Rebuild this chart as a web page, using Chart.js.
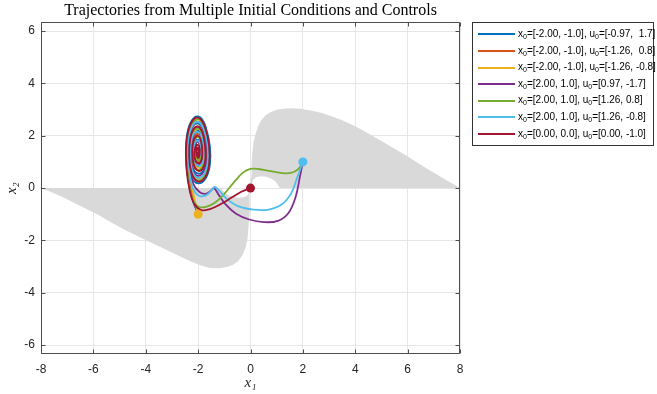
<!DOCTYPE html>
<html>
<head>
<meta charset="utf-8">
<script src="https://cdn.jsdelivr.net/npm/chart.js@4.4.1/dist/chart.umd.min.js"></script>
<style>
body{margin:0;background:#fff;}
#wrap{position:relative;width:657px;height:394px;}
#legend{position:absolute;left:472px;top:22px;width:182px;height:124px;border:1px solid #333;background:#fff;box-sizing:border-box;padding-top:3px;font-family:"Liberation Sans",Arial,sans-serif;font-size:10px;color:#000;}
.row{height:16.6px;line-height:16.6px;white-space:pre;}
.swatch{display:inline-block;width:37px;height:2px;margin:0 3px 0 5px;vertical-align:middle;}
.row sub{font-size:7px;vertical-align:-2px;line-height:0;}
</style>
</head>
<body>
<div id="wrap">
<canvas id="trajChart" width="657" height="394"></canvas>
<div id="legend"></div>
</div>
<script>
const xTicks = [-8, -6, -4, -2, 0, 2, 4, 6, 8];
const yTicks = [-6, -4, -2, 0, 2, 4, 6];

const seriesColors = ["#0072BD", "#D95319", "#EDB120", "#7E2F8E", "#77AC30", "#4DBEEE", "#A2142F"];
const legendX0 = ["[-2.00, -1.0]", "[-2.00, -1.0]", "[-2.00, -1.0]", "[2.00, 1.0]", "[2.00, 1.0]", "[2.00, 1.0]", "[0.00, 0.0]"];
const legendU0 = ["[-0.97,  1.7]", "[-1.26,  0.8]", "[-1.26, -0.8]", "[0.97, -1.7]", "[1.26, 0.8]", "[1.26, -0.8]", "[0.00, -1.0]"];

// shaded set, upper right part
const regionUpper = [
    [0.00, 0.00], [0.02, 0.40], [0.04, 0.90], [0.07, 1.35], [0.12, 1.75], [0.20, 2.10],
    [0.30, 2.38], [0.42, 2.60], [0.58, 2.78], [0.78, 2.91], [1.00, 2.99], [1.25, 3.03],
    [1.55, 3.05], [1.90, 3.03], [2.30, 2.97], [2.70, 2.88], [3.10, 2.75], [3.50, 2.59],
    [3.90, 2.41], [4.30, 2.20], [4.70, 1.97], [5.10, 1.74], [5.50, 1.50], [5.90, 1.27],
    [6.30, 1.02], [6.70, 0.77], [7.10, 0.53], [7.50, 0.29], [8.00, 0.00], [1.12, 0.00],
    [1.05, 0.12], [0.95, 0.25], [0.80, 0.36], [0.60, 0.43], [0.40, 0.45], [0.22, 0.42],
    [0.10, 0.32], [0.06, 0.18], [0.05, 0.04]
];

// shaded set, lower left part
const regionLower = [
    [-8.00, 0.00], [-1.12, 0.00], [-1.05, -0.10], [-0.95, -0.20], [-0.80, -0.29], [-0.60, -0.35],
    [-0.40, -0.37], [-0.22, -0.34], [-0.10, -0.26], [-0.06, -0.14], [-0.04, -0.02], [-0.02, -0.40],
    [-0.04, -0.90], [-0.07, -1.40], [-0.11, -1.90], [-0.18, -2.25], [-0.30, -2.55], [-0.46, -2.78],
    [-0.66, -2.93], [-0.90, -3.02], [-1.20, -3.06], [-1.55, -3.05], [-1.90, -2.96], [-2.30, -2.80],
    [-2.80, -2.56], [-3.30, -2.32], [-3.80, -2.08], [-4.30, -1.84], [-4.80, -1.59], [-5.30, -1.32],
    [-5.80, -1.03], [-6.30, -0.78], [-6.80, -0.53], [-7.30, -0.28], [-8.00, 0.00]
];

const traj1 = [
    [-2.00, -1.00], [-2.18, -0.55], [-2.34, 0.10], [-2.45, 0.90], [-2.46, 1.70], [-2.35, 2.35],
    [-2.13, 2.71], [-1.90, 2.69], [-1.70, 2.30], [-1.55, 1.60], [-1.55, 0.90], [-1.71, 0.38],
    [-2.00, 0.18], [-2.27, 0.45], [-2.39, 1.10], [-2.36, 1.85], [-2.20, 2.36], [-1.98, 2.46],
    [-1.78, 2.15], [-1.65, 1.55], [-1.69, 0.95], [-1.88, 0.58], [-2.12, 0.62], [-2.28, 1.05],
    [-2.28, 1.70], [-2.14, 2.12], [-1.95, 2.18], [-1.80, 1.85], [-1.76, 1.35], [-1.86, 0.92],
    [-2.05, 0.85], [-2.18, 1.15], [-2.18, 1.60], [-2.05, 1.85], [-1.90, 1.70], [-1.88, 1.30],
    [-1.98, 1.10], [-2.08, 1.30], [-2.02, 1.50]
];

const traj2 = [
    [-2.00, -1.00], [-2.15, -0.55], [-2.30, 0.10], [-2.41, 0.90], [-2.41, 1.70], [-2.31, 2.30],
    [-2.11, 2.61], [-1.90, 2.59], [-1.72, 2.22], [-1.59, 1.60], [-1.59, 0.95], [-1.75, 0.45],
    [-2.02, 0.28], [-2.25, 0.55], [-2.34, 1.15], [-2.30, 1.85], [-2.16, 2.28], [-1.97, 2.35],
    [-1.80, 2.05], [-1.70, 1.50], [-1.74, 0.98], [-1.92, 0.68], [-2.14, 0.78], [-2.24, 1.20],
    [-2.22, 1.75], [-2.08, 2.05], [-1.92, 2.02], [-1.83, 1.65], [-1.84, 1.15], [-1.98, 0.98],
    [-2.12, 1.20], [-2.12, 1.62], [-2.00, 1.78], [-1.92, 1.50], [-1.98, 1.25]
];

const traj3 = [
    [-2.00, -1.00], [-2.12, -0.50], [-2.26, 0.15], [-2.36, 0.95], [-2.36, 1.70], [-2.26, 2.25],
    [-2.08, 2.52], [-1.90, 2.50], [-1.74, 2.15], [-1.64, 1.55], [-1.65, 0.95], [-1.80, 0.52],
    [-2.03, 0.38], [-2.22, 0.65], [-2.30, 1.20], [-2.26, 1.85], [-2.12, 2.20], [-1.95, 2.25],
    [-1.82, 1.95], [-1.74, 1.45], [-1.78, 1.00], [-1.95, 0.78], [-2.14, 0.92], [-2.20, 1.35],
    [-2.16, 1.80], [-2.02, 1.98], [-1.90, 1.80], [-1.86, 1.35], [-1.96, 1.08], [-2.08, 1.25],
    [-2.06, 1.58], [-1.96, 1.60], [-1.95, 1.35]
];

const traj4 = [
    [2.00, 1.00], [1.88, 0.40], [1.72, -0.35], [1.45, -0.95], [1.05, -1.25], [0.50, -1.30],
    [-0.05, -1.20], [-0.55, -0.98], [-0.95, -0.62], [-1.22, -0.25], [-1.40, 0.00], [-1.54, -0.12],
    [-1.74, -0.22], [-1.96, -0.14], [-2.18, 0.15], [-2.32, 0.80], [-2.36, 1.60], [-2.28, 2.20],
    [-2.10, 2.50], [-1.92, 2.48], [-1.76, 2.15], [-1.66, 1.55], [-1.68, 0.95], [-1.84, 0.55],
    [-2.06, 0.48], [-2.24, 0.82], [-2.28, 1.45], [-2.20, 1.95], [-2.04, 2.15], [-1.88, 1.98],
    [-1.80, 1.50], [-1.84, 1.05], [-2.00, 0.90], [-2.14, 1.15], [-2.14, 1.60], [-2.02, 1.78],
    [-1.92, 1.55], [-1.95, 1.25], [-2.02, 1.30]
];

const traj5 = [
    [2.00, 1.00], [1.82, 0.72], [1.55, 0.58], [1.15, 0.58], [0.70, 0.66], [0.30, 0.73],
    [0.00, 0.73], [-0.30, 0.58], [-0.65, 0.20], [-1.00, -0.22], [-1.35, -0.55], [-1.70, -0.72],
    [-2.00, -0.70], [-2.22, -0.40], [-2.36, 0.20], [-2.44, 1.00], [-2.42, 1.80], [-2.28, 2.38],
    [-2.06, 2.62], [-1.86, 2.55], [-1.70, 2.15], [-1.60, 1.50], [-1.62, 0.85], [-1.78, 0.42],
    [-2.02, 0.30], [-2.24, 0.60], [-2.32, 1.25], [-2.28, 1.90], [-2.12, 2.25], [-1.94, 2.25],
    [-1.80, 1.90], [-1.74, 1.35], [-1.80, 0.90], [-1.98, 0.70], [-2.16, 0.90], [-2.22, 1.40],
    [-2.14, 1.85], [-1.98, 1.95], [-1.86, 1.65], [-1.88, 1.20], [-2.02, 1.05], [-2.10, 1.35],
    [-2.02, 1.55]
];

const traj6 = [
    [2.00, 1.00], [1.80, 0.45], [1.55, -0.20], [1.20, -0.62], [0.70, -0.82], [0.10, -0.82],
    [-0.45, -0.70], [-0.90, -0.42], [-1.20, -0.10], [-1.36, 0.05], [-1.50, -0.10], [-1.70, -0.28],
    [-1.95, -0.30], [-2.18, -0.05], [-2.33, 0.60], [-2.38, 1.40], [-2.32, 2.10], [-2.14, 2.48],
    [-1.94, 2.50], [-1.76, 2.18], [-1.64, 1.60], [-1.64, 0.95], [-1.80, 0.50], [-2.04, 0.40],
    [-2.24, 0.72], [-2.30, 1.35], [-2.24, 1.90], [-2.08, 2.15], [-1.90, 2.05], [-1.80, 1.60],
    [-1.80, 1.10], [-1.95, 0.85], [-2.12, 1.00], [-2.18, 1.45], [-2.08, 1.80], [-1.94, 1.75],
    [-1.90, 1.40], [-1.98, 1.20], [-2.04, 1.35]
];

const traj7 = [
    [0.00, 0.00], [-0.35, -0.14], [-0.75, -0.38], [-1.15, -0.62], [-1.55, -0.80], [-1.88, -0.84],
    [-2.14, -0.62], [-2.32, -0.10], [-2.44, 0.70], [-2.46, 1.55], [-2.36, 2.25], [-2.14, 2.66],
    [-1.92, 2.65], [-1.72, 2.28], [-1.58, 1.60], [-1.58, 0.90], [-1.74, 0.40], [-2.00, 0.25],
    [-2.24, 0.55], [-2.34, 1.20], [-2.30, 1.90], [-2.14, 2.30], [-1.95, 2.32], [-1.80, 2.00],
    [-1.72, 1.40], [-1.76, 0.90], [-1.94, 0.65], [-2.14, 0.82], [-2.22, 1.35], [-2.16, 1.85],
    [-2.00, 2.00], [-1.88, 1.75], [-1.84, 1.30], [-1.92, 0.98], [-2.08, 1.00], [-2.14, 1.35],
    [-2.06, 1.65], [-1.96, 1.60], [-1.94, 1.30], [-2.00, 1.15], [-2.06, 1.38], [-2.02, 1.55],
    [-1.97, 1.40], [-2.00, 1.25], [-2.03, 1.38]
];

const trajectories = [traj1, traj2, traj3, traj4, traj5, traj6, traj7];

const startPoints = [[-2.00, -1.00], [2.00, 1.00], [0.00, 0.00]];
const startColors = ["#EDB120", "#4DBEEE", "#A2142F"];

const toXY = arr => arr.map(p => ({x: p[0], y: p[1]}));

const datasets = [];

[regionUpper, regionLower].forEach(r => {
    datasets.push({
        data: toXY(r),
        showLine: true,
        fill: "shape",
        backgroundColor: "#d9d9d9",
        borderColor: "rgba(0,0,0,0)",
        borderWidth: 0,
        pointRadius: 0,
        tension: 0,
        order: 20
    });
});

trajectories.forEach((t, i) => {
    datasets.push({
        data: toXY(t),
        showLine: true,
        fill: false,
        borderColor: seriesColors[i],
        borderWidth: 1.8,
        pointRadius: 0,
        tension: 0.4,
        order: 10 - i
    });
});

startPoints.forEach((p, i) => {
    datasets.push({
        data: [{x: p[0], y: p[1]}],
        showLine: false,
        pointRadius: 4.5,
        pointBackgroundColor: startColors[i],
        pointBorderColor: startColors[i],
        pointBorderWidth: 0,
        order: 0
    });
});

// MATLAB style box with inward ticks
const axesBox = {
    id: "axesBox",
    afterDatasetsDraw(chart){
        const {ctx, chartArea: a, scales} = chart;
        const L = Math.round(a.left) + 0.5, R = Math.round(a.right) - 0.5;
        const T = Math.round(a.top) + 0.5, B = Math.round(a.bottom) - 0.5;
        ctx.save();
        ctx.strokeStyle = "#4d4d4d";
        ctx.lineWidth = 1;
        ctx.beginPath();
        ctx.rect(L, T, R - L, B - T);
        scales.x.ticks.forEach(t => {
            const px = Math.round(scales.x.getPixelForValue(t.value)) + 0.5;
            ctx.moveTo(px, B); ctx.lineTo(px, B - 4);
            ctx.moveTo(px, T); ctx.lineTo(px, T + 4);
        });
        scales.y.ticks.forEach(t => {
            const py = Math.round(scales.y.getPixelForValue(t.value)) + 0.5;
            ctx.moveTo(L, py); ctx.lineTo(L + 4, py);
            ctx.moveTo(R, py); ctx.lineTo(R - 4, py);
        });
        ctx.stroke();
        ctx.restore();
    }
};

new Chart(document.getElementById("trajChart"), {
    type: "scatter",
    data: {datasets: datasets},
    options: {
        responsive: false,
        animation: false,
        layout: {padding: {left: 0, right: 197, top: 0, bottom: 0}},
        plugins: {
            legend: {display: false},
            tooltip: {enabled: false},
            title: {
                display: true,
                fullSize: false,
                text: "Trajectories from Multiple Initial Conditions and Controls",
                color: "#000",
                font: {family: "'Liberation Serif', 'Times New Roman', serif", size: 16, weight: "normal"},
                padding: {top: 1, bottom: 2}
            }
        },
        scales: {
            x: {
                type: "linear",
                min: -8,
                max: 8,
                afterBuildTicks: s => { s.ticks = xTicks.map(v => ({value: v})); },
                afterFit: s => { s.height = 40; },
                grid: {color: "#e6e6e6", drawTicks: false},
                border: {display: false},
                ticks: {color: "#262626", padding: 8, font: {family: "'Liberation Sans', Arial, sans-serif", size: 12}},
                title: {
                    display: true,
                    text: "x\u2081",
                    color: "#262626",
                    font: {family: "'Liberation Serif', 'DejaVu Serif', serif", size: 15, style: "italic"},
                    padding: {top: 0, bottom: 2}
                }
            },
            y: {
                type: "linear",
                min: -6.34,
                max: 6.34,
                afterBuildTicks: s => { s.ticks = yTicks.map(v => ({value: v})); },
                afterFit: s => { s.width = 41; },
                grid: {color: "#e6e6e6", drawTicks: false},
                border: {display: false},
                ticks: {color: "#262626", padding: 6, font: {family: "'Liberation Sans', Arial, sans-serif", size: 12}},
                title: {
                    display: true,
                    text: "x\u2082",
                    color: "#262626",
                    font: {family: "'Liberation Serif', 'DejaVu Serif', serif", size: 15, style: "italic"},
                    padding: {top: 3, bottom: 0}
                }
            }
        }
    },
    plugins: [axesBox]
});

// legend with subscripts
const legendBox = document.getElementById("legend");
seriesColors.forEach((c, i) => {
    const row = document.createElement("div");
    row.className = "row";
    row.innerHTML = '<span class="swatch" style="background:' + c + '"></span>x<sub>0</sub>=' +
        legendX0[i] + ', u<sub>0</sub>=' + legendU0[i];
    legendBox.appendChild(row);
});
</script>
</body>
</html>
